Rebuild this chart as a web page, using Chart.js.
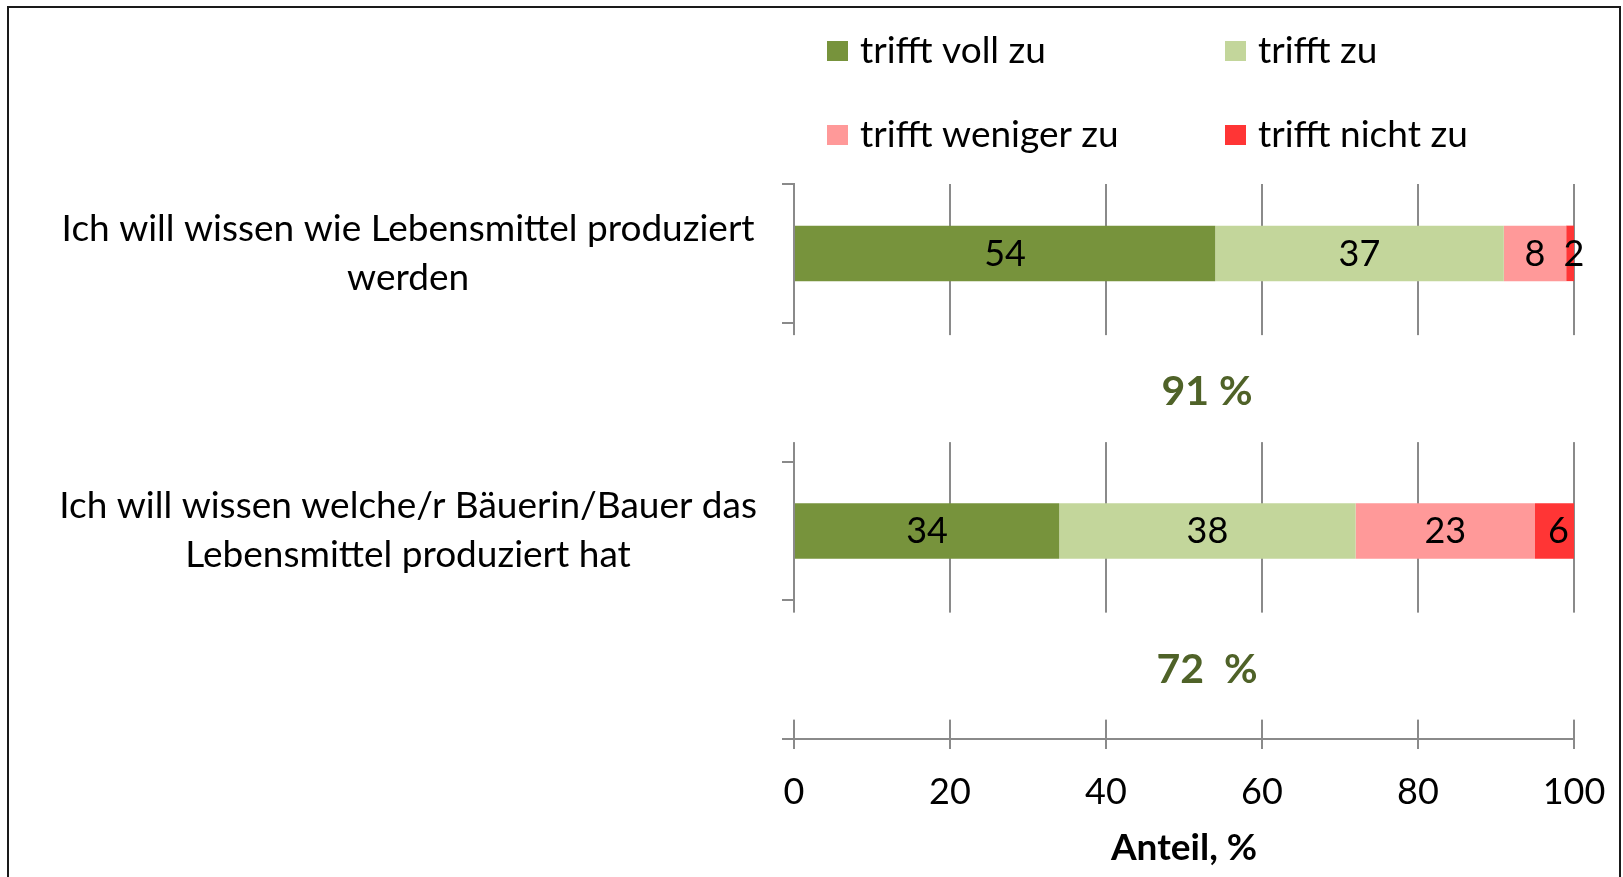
<!DOCTYPE html>
<html>
<head>
<meta charset="utf-8">
<script src="https://cdn.jsdelivr.net/npm/chart.js@4.4.1/dist/chart.umd.min.js"></script>
<style>
  html, body { margin: 0; padding: 0; background: #fff; }
  #wrap { width: 1623px; height: 877px; position: relative; }
</style>
</head>
<body>
<div id="wrap"><canvas id="myChart"></canvas></div>
<script>
var categories = [
  ["Ich will wissen wie Lebensmittel produziert", "werden"],
  ["Ich will wissen welche/r Bäuerin/Bauer das", "Lebensmittel produziert hat"]
];
var totals = ["91 %", "72  %"];
var seriesNames = ["trifft voll zu", "trifft zu", "trifft weniger zu", "trifft nicht zu"];
var vollZu = [54, 34];
var zu = [37, 38];
var wenigerZu = [8, 23];
var nichtZu = [2, 6];
var barColors = ["#77933C", "#C3D69B", "#FF9999", "#FF3535"];
var xTicks = [0, 20, 40, 60, 80, 100];

var FONT = "Lato, 'Open Sans', sans-serif";
var gridGray = "#8a8a8a";

// each question gets an empty row below it (room for the total)
function withSpacers(arr, fill) {
  var out = [];
  arr.forEach(function (v) { out.push(v); out.push(fill); });
  return out;
}

var seriesValues = [vollZu, zu, wenigerZu, nichtZu];
var datasets = seriesNames.map(function (name, i) {
  return {
    label: name,
    data: withSpacers(seriesValues[i], null),
    backgroundColor: barColors[i],
    barPercentage: 0.4,
    categoryPercentage: 1
  };
});

var valueLabels = {
  id: "valueLabels",
  afterDatasetsDraw: function (chart) {
    var ctx = chart.ctx;
    ctx.save();
    ctx.font = "36px " + FONT;
    ctx.fillStyle = "#000";
    ctx.textAlign = "center";
    ctx.textBaseline = "middle";
    chart.data.datasets.forEach(function (ds, di) {
      chart.getDatasetMeta(di).data.forEach(function (bar, i) {
        var v = ds.data[i];
        if (v === null) return;
        var p = bar.getProps(["x", "y", "base"], true);
        ctx.fillText(String(v), (p.x + p.base) / 2, p.y + 1);
      });
    });
    ctx.restore();
  }
};

var extras = {
  id: "extras",
  afterDraw: function (chart) {
    var ctx = chart.ctx;
    var yScale = chart.scales.y;
    var area = chart.chartArea;
    ctx.save();
    // totals in the spacer rows, on white boxes
    totals.forEach(function (t, i) {
      var cy = yScale.getPixelForValue(i * 2 + 1);
      ctx.fillStyle = "#fff";
      ctx.fillRect(area.left - 25, cy - 57, area.right - area.left + 35, 107);
      ctx.fillStyle = "#4F6228";
      ctx.font = "bold 41px " + FONT;
      ctx.textAlign = "center";
      ctx.textBaseline = "middle";
      ctx.fillText(t, 1207, cy);
    });
    // legend, 2 x 2
    var pos = [[827, 51], [1225, 51], [827, 135], [1225, 135]];
    ctx.font = "37px " + FONT;
    ctx.textAlign = "left";
    ctx.textBaseline = "middle";
    chart.data.datasets.forEach(function (ds, i) {
      ctx.fillStyle = ds.backgroundColor;
      ctx.fillRect(pos[i][0], pos[i][1] - 10, 21, 20);
      ctx.fillStyle = "#000";
      ctx.fillText(ds.label, pos[i][0] + 33, pos[i][1]);
    });
    // outer frame
    ctx.strokeStyle = "#1a1a1a";
    ctx.lineWidth = 2;
    ctx.strokeRect(8, 7, 1612, 1000);
    ctx.restore();
  }
};

new Chart("myChart", {
  type: "bar",
  data: {
    labels: withSpacers(categories, ""),
    datasets: datasets
  },
  plugins: [valueLabels, extras],
  options: {
    indexAxis: "y",
    responsive: true,
    maintainAspectRatio: false,
    animation: false,
    layout: { padding: { top: 184, right: 49, left: 0, bottom: 0 } },
    plugins: {
      legend: { display: false },
      tooltip: { enabled: false }
    },
    scales: {
      x: {
        stacked: true,
        min: 0,
        max: 100,
        afterBuildTicks: function (scale) {
          scale.ticks = xTicks.map(function (v) { return { value: v }; });
        },
        afterFit: function (scale) {
          scale.height = 138;
          scale.paddingLeft = 0;
          scale.paddingRight = 0;
        },
        grid: { color: gridGray, lineWidth: 2, tickLength: 10 },
        border: { color: gridGray, width: 2 },
        ticks: { color: "#000", padding: 22, font: { family: FONT, size: 36 } },
        title: {
          display: true,
          text: "Anteil, %",
          color: "#000",
          padding: { top: 0, bottom: 7 },
          font: { family: FONT, size: 37, weight: "bold" }
        }
      },
      y: {
        stacked: true,
        afterFit: function (scale) { scale.width = 794; },
        grid: { drawOnChartArea: false, offset: true, color: gridGray, lineWidth: 2, tickLength: 12 },
        border: { color: gridGray, width: 2 },
        ticks: {
          autoSkip: false,
          crossAlign: "center",
          padding: 25,
          color: "#000",
          font: { family: FONT, size: 37, lineHeight: 1.32 }
        }
      }
    }
  }
});
</script>
</body>
</html>
